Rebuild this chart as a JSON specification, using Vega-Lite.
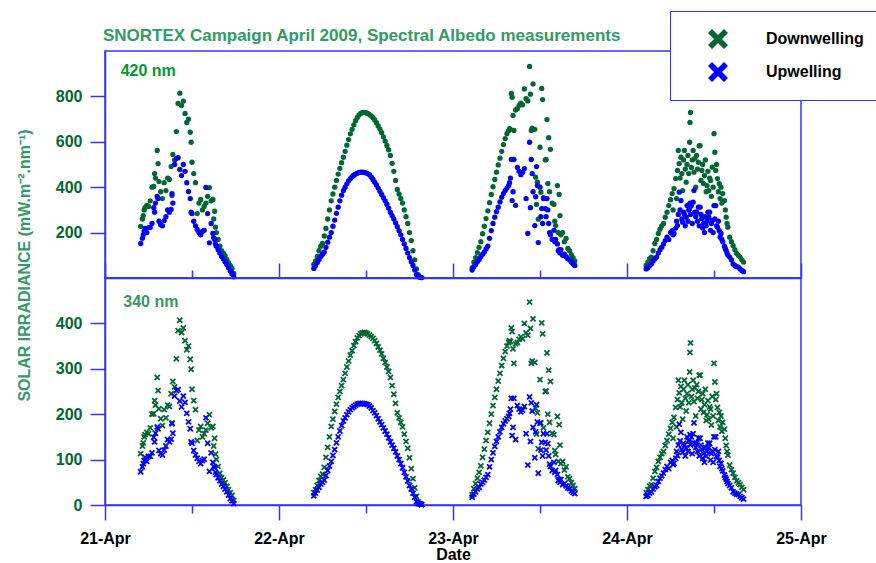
{
  "$schema": "https://vega.github.io/schema/vega-lite/v6.json",
  "padding": {"left": 15, "top": 10, "right": 0, "bottom": 0},
  "bounds": "flush",
  "spacing": 0,
  "title": {"text": "SNORTEX Campaign April 2009, Spectral Albedo measurements", "anchor": "start", "frame": "group", "color": "#339966", "font": "Liberation Sans", "fontSize": 17, "fontWeight": "bold", "dx": -2, "offset": -34},
  "data": {"values": [
{"t":21.205,"D420":227,"U420":152,"D340":113,"U340":73},
{"t":21.215,"D420":260,"U420":175,"D340":130,"U340":84},
{"t":21.22,"D420":275,"U420":190,"D340":137,"U340":91},
{"t":21.225,"D420":300,"U420":205,"D340":150,"U340":98},
{"t":21.23,"D420":310,"U420":218,"D340":155,"U340":105},
{"t":21.24,"D420":320,"U420":200,"D340":160,"U340":96},
{"t":21.25,"D420":315,"U420":222,"D340":157,"U340":107},
{"t":21.26,"D420":340,"U420":222,"D340":170,"U340":107},
{"t":21.27,"D420":400,"U420":240,"D340":200,"U340":115},
{"t":21.28,"D420":403,"U420":310,"D340":201,"U340":149},
{"t":21.285,"D420":460,"U420":290,"D340":230,"U340":139},
{"t":21.29,"D420":440,"U420":330,"D340":220,"U340":158},
{"t":21.30,"D420":562,"U420":359,"D340":281,"U340":172},
{"t":21.305,"D420":504,"U420":350,"D340":252,"U340":168},
{"t":21.31,"D420":425,"U420":250,"D340":212,"U340":120},
{"t":21.32,"D420":380,"U420":235,"D340":190,"U340":113},
{"t":21.33,"D420":350,"U420":230,"D340":175,"U340":110},
{"t":21.34,"D420":420,"U420":253,"D340":210,"U340":121},
{"t":21.35,"D420":385,"U420":270,"D340":192,"U340":130},
{"t":21.36,"D420":440,"U420":300,"D340":220,"U340":144},
{"t":21.37,"D420":434,"U420":290,"D340":217,"U340":139},
{"t":21.38,"D420":491,"U420":302,"D340":245,"U340":145},
{"t":21.385,"D420":363,"U420":372,"D340":181,"U340":179},
{"t":21.39,"D420":544,"U420":330,"D340":272,"U340":158},
{"t":21.40,"D420":520,"U420":500,"D340":260,"U340":240},
{"t":21.41,"D420":645,"U420":526,"D340":322,"U340":252},
{"t":21.42,"D420":769,"U420":530,"D340":384,"U340":254},
{"t":21.43,"D420":814,"U420":478,"D340":407,"U340":229},
{"t":21.44,"D420":760,"U420":451,"D340":380,"U340":216},
{"t":21.45,"D420":779,"U420":500,"D340":390,"U340":240},
{"t":21.46,"D420":725,"U420":470,"D340":362,"U340":226},
{"t":21.47,"D420":685,"U420":420,"D340":342,"U340":202},
{"t":21.48,"D420":700,"U420":381,"D340":350,"U340":183},
{"t":21.49,"D420":642,"U420":350,"D340":321,"U340":168},
{"t":21.495,"D420":598,"U420":290,"D340":299,"U340":139},
{"t":21.50,"D420":510,"U420":284,"D340":255,"U340":136},
{"t":21.51,"D420":460,"U420":250,"D340":230,"U340":120},
{"t":21.52,"D420":420,"U420":230,"D340":210,"U340":110},
{"t":21.53,"D420":284,"U420":214,"D340":142,"U340":103},
{"t":21.54,"D420":330,"U420":200,"D340":165,"U340":96},
{"t":21.55,"D420":346,"U420":190,"D340":173,"U340":91},
{"t":21.56,"D420":300,"U420":205,"D340":150,"U340":98},
{"t":21.57,"D420":315,"U420":210,"D340":157,"U340":101},
{"t":21.58,"D420":330,"U420":399,"D340":165,"U340":192},
{"t":21.59,"D420":360,"U420":284,"D340":180,"U340":136},
{"t":21.60,"D420":398,"U420":155,"D340":199,"U340":74},
{"t":21.61,"D420":340,"U420":240,"D340":170,"U340":115},
{"t":21.62,"D420":346,"U420":196,"D340":173,"U340":94},
{"t":21.625,"D420":260,"U420":178,"D340":130,"U340":85},
{"t":21.63,"D420":294,"U420":170,"D340":147,"U340":82},
{"t":21.635,"D420":224,"U420":150,"D340":112,"U340":72},
{"t":21.64,"D420":200,"U420":140,"D340":100,"U340":67},
{"t":21.65,"D420":170,"U420":125,"D340":85,"U340":60},
{"t":21.66,"D420":140,"U420":110,"D340":70,"U340":53},
{"t":21.67,"D420":121,"U420":95,"D340":60,"U340":46},
{"t":21.68,"D420":110,"U420":85,"D340":55,"U340":41},
{"t":21.69,"D420":99,"U420":72,"D340":49,"U340":35},
{"t":21.70,"D420":82,"U420":60,"D340":41,"U340":29},
{"t":21.71,"D420":68,"U420":45,"D340":34,"U340":22},
{"t":21.72,"D420":55,"U420":30,"D340":27,"U340":14},
{"t":21.73,"D420":42,"U420":18,"D340":21,"U340":9},
{"t":21.74,"D420":20,"U420":5,"D340":10,"U340":3},
{"t":22.20,"D420":60,"U420":42,"D340":27,"U340":20},
{"t":22.21,"D420":75,"U420":55,"D340":34,"U340":26},
{"t":22.22,"D420":95,"U420":68,"D340":43,"U340":33},
{"t":22.23,"D420":120,"U420":82,"D340":54,"U340":39},
{"t":22.24,"D420":140,"U420":95,"D340":63,"U340":46},
{"t":22.25,"D420":152,"U420":105,"D340":68,"U340":50},
{"t":22.26,"D420":185,"U420":115,"D340":83,"U340":55},
{"t":22.27,"D420":218,"U420":135,"D340":105,"U340":65},
{"t":22.28,"D420":260,"U420":158,"D340":127,"U340":76},
{"t":22.29,"D420":300,"U420":180,"D340":150,"U340":86},
{"t":22.30,"D420":340,"U420":200,"D340":173,"U340":96},
{"t":22.31,"D420":370,"U420":228,"D340":189,"U340":109},
{"t":22.32,"D420":400,"U420":255,"D340":206,"U340":122},
{"t":22.33,"D420":430,"U420":285,"D340":222,"U340":137},
{"t":22.34,"D420":458,"U420":312,"D340":237,"U340":150},
{"t":22.35,"D420":483,"U420":340,"D340":250,"U340":163},
{"t":22.36,"D420":508,"U420":365,"D340":263,"U340":175},
{"t":22.37,"D420":532,"U420":385,"D340":276,"U340":185},
{"t":22.38,"D420":558,"U420":400,"D340":290,"U340":192},
{"t":22.39,"D420":585,"U420":415,"D340":304,"U340":199},
{"t":22.40,"D420":610,"U420":428,"D340":317,"U340":205},
{"t":22.41,"D420":635,"U420":438,"D340":330,"U340":210},
{"t":22.42,"D420":655,"U420":446,"D340":340,"U340":214},
{"t":22.43,"D420":675,"U420":453,"D340":351,"U340":217},
{"t":22.44,"D420":693,"U420":458,"D340":360,"U340":220},
{"t":22.45,"D420":707,"U420":462,"D340":368,"U340":222},
{"t":22.46,"D420":718,"U420":465,"D340":373,"U340":223},
{"t":22.47,"D420":725,"U420":466,"D340":377,"U340":224},
{"t":22.48,"D420":729,"U420":466,"D340":379,"U340":224},
{"t":22.49,"D420":730,"U420":465,"D340":380,"U340":223},
{"t":22.50,"D420":728,"U420":463,"D340":379,"U340":222},
{"t":22.51,"D420":725,"U420":460,"D340":377,"U340":221},
{"t":22.52,"D420":720,"U420":455,"D340":374,"U340":218},
{"t":22.53,"D420":714,"U420":445,"D340":371,"U340":214},
{"t":22.54,"D420":706,"U420":434,"D340":367,"U340":208},
{"t":22.55,"D420":696,"U420":422,"D340":362,"U340":203},
{"t":22.56,"D420":684,"U420":410,"D340":356,"U340":197},
{"t":22.57,"D420":670,"U420":396,"D340":348,"U340":190},
{"t":22.58,"D420":656,"U420":382,"D340":341,"U340":183},
{"t":22.59,"D420":640,"U420":368,"D340":333,"U340":177},
{"t":22.60,"D420":622,"U420":354,"D340":323,"U340":170},
{"t":22.61,"D420":603,"U420":340,"D340":314,"U340":163},
{"t":22.62,"D420":584,"U420":325,"D340":304,"U340":156},
{"t":22.63,"D420":565,"U420":308,"D340":294,"U340":148},
{"t":22.64,"D420":540,"U420":290,"D340":281,"U340":139},
{"t":22.65,"D420":505,"U420":275,"D340":263,"U340":132},
{"t":22.66,"D420":470,"U420":260,"D340":244,"U340":125},
{"t":22.67,"D420":430,"U420":243,"D340":224,"U340":117},
{"t":22.68,"D420":390,"U420":226,"D340":203,"U340":108},
{"t":22.69,"D420":370,"U420":208,"D340":192,"U340":100},
{"t":22.70,"D420":350,"U420":190,"D340":182,"U340":91},
{"t":22.71,"D420":330,"U420":170,"D340":172,"U340":82},
{"t":22.72,"D420":300,"U420":150,"D340":156,"U340":72},
{"t":22.73,"D420":270,"U420":130,"D340":140,"U340":62},
{"t":22.74,"D420":240,"U420":110,"D340":125,"U340":53},
{"t":22.75,"D420":200,"U420":90,"D340":104,"U340":43},
{"t":22.76,"D420":165,"U420":72,"D340":80,"U340":35},
{"t":22.77,"D420":120,"U420":55,"D340":58,"U340":26},
{"t":22.78,"D420":80,"U420":35,"D340":38,"U340":17},
{"t":22.79,"D420":40,"U420":15,"D340":19,"U340":7},
{"t":22.80,"D420":15,"U420":6,"D340":7,"U340":3},
{"t":22.81,"D420":5,"U420":3,"D340":3,"U340":2},
{"t":22.82,"D420":2,"U420":2,"D340":1,"U340":1},
{"t":23.11,"D420":45,"U420":35,"D340":22,"U340":17},
{"t":23.12,"D420":70,"U420":50,"D340":36,"U340":24},
{"t":23.13,"D420":90,"U420":60,"D340":47,"U340":29},
{"t":23.14,"D420":112,"U420":72,"D340":59,"U340":35},
{"t":23.15,"D420":135,"U420":82,"D340":72,"U340":39},
{"t":23.16,"D420":160,"U420":95,"D340":86,"U340":46},
{"t":23.17,"D420":195,"U420":105,"D340":105,"U340":50},
{"t":23.18,"D420":228,"U420":115,"D340":123,"U340":55},
{"t":23.19,"D420":262,"U420":128,"D340":142,"U340":61},
{"t":23.20,"D420":296,"U420":140,"D340":160,"U340":67},
{"t":23.21,"D420":332,"U420":175,"D340":180,"U340":84},
{"t":23.22,"D420":368,"U420":209,"D340":200,"U340":100},
{"t":23.23,"D420":402,"U420":240,"D340":219,"U340":115},
{"t":23.24,"D420":434,"U420":268,"D340":237,"U340":129},
{"t":23.25,"D420":466,"U420":292,"D340":255,"U340":140},
{"t":23.26,"D420":498,"U420":312,"D340":273,"U340":150},
{"t":23.27,"D420":528,"U420":335,"D340":290,"U340":161},
{"t":23.28,"D420":558,"U420":356,"D340":307,"U340":171},
{"t":23.29,"D420":588,"U420":372,"D340":323,"U340":179},
{"t":23.30,"D420":614,"U420":385,"D340":338,"U340":185},
{"t":23.31,"D420":636,"U420":396,"D340":350,"U340":190},
{"t":23.32,"D420":650,"U420":407,"D340":358,"U340":195},
{"t":23.325,"D420":658,"U420":420,"D340":362,"U340":202},
{"t":23.33,"D420":655,"U420":440,"D340":360,"U340":211},
{"t":23.335,"D420":813,"U420":522,"D340":390,"U340":235},
{"t":23.34,"D420":796,"U420":341,"D340":382,"U340":153},
{"t":23.345,"D420":716,"U420":380,"D340":344,"U340":171},
{"t":23.35,"D420":650,"U420":522,"D340":312,"U340":235},
{"t":23.36,"D420":740,"U420":320,"D340":355,"U340":144},
{"t":23.37,"D420":746,"U420":487,"D340":358,"U340":219},
{"t":23.38,"D420":760,"U420":470,"D340":365,"U340":211},
{"t":23.39,"D420":770,"U420":455,"D340":370,"U340":205},
{"t":23.40,"D420":763,"U420":465,"D340":366,"U340":209},
{"t":23.41,"D420":833,"U420":482,"D340":400,"U340":217},
{"t":23.42,"D420":790,"U420":350,"D340":379,"U340":157},
{"t":23.43,"D420":780,"U420":196,"D340":374,"U340":88},
{"t":23.44,"D420":932,"U420":598,"D340":447,"U340":238},
{"t":23.445,"D420":810,"U420":310,"D340":389,"U340":140},
{"t":23.45,"D420":650,"U420":522,"D340":312,"U340":225},
{"t":23.455,"D420":660,"U420":460,"D340":317,"U340":207},
{"t":23.46,"D420":855,"U420":380,"D340":410,"U340":171},
{"t":23.47,"D420":655,"U420":231,"D340":314,"U340":104},
{"t":23.475,"D420":444,"U420":358,"D340":213,"U340":161},
{"t":23.48,"D420":324,"U420":491,"D340":156,"U340":221},
{"t":23.485,"D420":422,"U420":407,"D340":203,"U340":183},
{"t":23.49,"D420":259,"U420":156,"D340":124,"U340":70},
{"t":23.50,"D420":576,"U420":400,"D340":276,"U340":180},
{"t":23.505,"D420":378,"U420":270,"D340":181,"U340":121},
{"t":23.51,"D420":835,"U420":306,"D340":401,"U340":138},
{"t":23.515,"D420":786,"U420":240,"D340":377,"U340":108},
{"t":23.52,"D420":354,"U420":350,"D340":170,"U340":157},
{"t":23.53,"D420":520,"U420":306,"D340":250,"U340":138},
{"t":23.535,"D420":522,"U420":270,"D340":251,"U340":121},
{"t":23.54,"D420":698,"U420":350,"D340":335,"U340":157},
{"t":23.545,"D420":416,"U420":300,"D340":200,"U340":135},
{"t":23.55,"D420":618,"U420":240,"D340":297,"U340":108},
{"t":23.555,"D420":380,"U420":200,"D340":182,"U340":90},
{"t":23.56,"D420":567,"U420":190,"D340":272,"U340":85},
{"t":23.57,"D420":330,"U420":170,"D340":158,"U340":76},
{"t":23.58,"D420":324,"U420":210,"D340":155,"U340":94},
{"t":23.585,"D420":250,"U420":160,"D340":120,"U340":72},
{"t":23.59,"D420":231,"U420":170,"D340":111,"U340":76},
{"t":23.60,"D420":407,"U420":150,"D340":195,"U340":67},
{"t":23.605,"D420":200,"U420":120,"D340":96,"U340":54},
{"t":23.61,"D420":368,"U420":125,"D340":177,"U340":56},
{"t":23.615,"D420":275,"U420":110,"D340":132,"U340":50},
{"t":23.62,"D420":190,"U420":125,"D340":91,"U340":56},
{"t":23.63,"D420":200,"U420":100,"D340":96,"U340":45},
{"t":23.64,"D420":160,"U420":105,"D340":77,"U340":47},
{"t":23.65,"D420":174,"U420":94,"D340":84,"U340":42},
{"t":23.66,"D420":130,"U420":85,"D340":62,"U340":38},
{"t":23.67,"D420":120,"U420":80,"D340":58,"U340":36},
{"t":23.68,"D420":103,"U420":70,"D340":49,"U340":31},
{"t":23.69,"D420":90,"U420":62,"D340":43,"U340":28},
{"t":23.70,"D420":75,"U420":55,"D340":36,"U340":25},
{"t":24.11,"D420":55,"U420":40,"D340":27,"U340":19},
{"t":24.12,"D420":70,"U420":45,"D340":34,"U340":21},
{"t":24.13,"D420":85,"U420":55,"D340":42,"U340":26},
{"t":24.14,"D420":92,"U420":62,"D340":45,"U340":29},
{"t":24.15,"D420":120,"U420":75,"D340":59,"U340":35},
{"t":24.16,"D420":152,"U420":85,"D340":74,"U340":40},
{"t":24.17,"D420":170,"U420":92,"D340":83,"U340":43},
{"t":24.18,"D420":196,"U420":110,"D340":96,"U340":52},
{"t":24.19,"D420":215,"U420":125,"D340":105,"U340":59},
{"t":24.20,"D420":230,"U420":136,"D340":113,"U340":64},
{"t":24.21,"D420":240,"U420":150,"D340":118,"U340":70},
{"t":24.22,"D420":268,"U420":165,"D340":131,"U340":78},
{"t":24.23,"D420":290,"U420":180,"D340":142,"U340":85},
{"t":24.24,"D420":319,"U420":170,"D340":156,"U340":80},
{"t":24.25,"D420":345,"U420":200,"D340":169,"U340":94},
{"t":24.26,"D420":372,"U420":209,"D340":182,"U340":98},
{"t":24.265,"D420":300,"U420":190,"D340":147,"U340":89},
{"t":24.27,"D420":394,"U420":196,"D340":193,"U340":92},
{"t":24.28,"D420":438,"U420":220,"D340":215,"U340":103},
{"t":24.285,"D420":350,"U420":250,"D340":172,"U340":118},
{"t":24.29,"D420":474,"U420":231,"D340":232,"U340":109},
{"t":24.295,"D420":562,"U420":280,"D340":275,"U340":132},
{"t":24.30,"D420":504,"U420":378,"D340":247,"U340":178},
{"t":24.305,"D420":440,"U420":300,"D340":216,"U340":141},
{"t":24.31,"D420":532,"U420":341,"D340":261,"U340":160},
{"t":24.315,"D420":460,"U420":260,"D340":225,"U340":122},
{"t":24.32,"D420":385,"U420":246,"D340":189,"U340":116},
{"t":24.325,"D420":520,"U420":290,"D340":255,"U340":136},
{"t":24.33,"D420":562,"U420":280,"D340":275,"U340":132},
{"t":24.335,"D420":480,"U420":230,"D340":235,"U340":108},
{"t":24.34,"D420":422,"U420":268,"D340":207,"U340":126},
{"t":24.345,"D420":500,"U420":319,"D340":245,"U340":150},
{"t":24.35,"D420":540,"U420":250,"D340":265,"U340":118},
{"t":24.355,"D420":460,"U420":300,"D340":225,"U340":141},
{"t":24.36,"D420":598,"U420":306,"D340":293,"U340":144},
{"t":24.362,"D420":685,"U420":330,"D340":336,"U340":155},
{"t":24.365,"D420":729,"U420":280,"D340":357,"U340":132},
{"t":24.37,"D420":487,"U420":319,"D340":239,"U340":150},
{"t":24.375,"D420":520,"U420":240,"D340":255,"U340":113},
{"t":24.38,"D420":562,"U420":334,"D340":275,"U340":157},
{"t":24.385,"D420":466,"U420":385,"D340":228,"U340":181},
{"t":24.39,"D420":526,"U420":290,"D340":258,"U340":136},
{"t":24.395,"D420":400,"U420":270,"D340":196,"U340":127},
{"t":24.40,"D420":540,"U420":290,"D340":265,"U340":136},
{"t":24.405,"D420":480,"U420":250,"D340":235,"U340":118},
{"t":24.41,"D420":510,"U420":312,"D340":250,"U340":147},
{"t":24.415,"D420":583,"U420":230,"D340":286,"U340":108},
{"t":24.42,"D420":583,"U420":312,"D340":286,"U340":147},
{"t":24.425,"D420":430,"U420":280,"D340":211,"U340":132},
{"t":24.43,"D420":474,"U420":262,"D340":232,"U340":123},
{"t":24.435,"D420":500,"U420":220,"D340":245,"U340":103},
{"t":24.44,"D420":416,"U420":240,"D340":204,"U340":113},
{"t":24.445,"D420":451,"U420":200,"D340":221,"U340":94},
{"t":24.45,"D420":520,"U420":270,"D340":255,"U340":127},
{"t":24.455,"D420":380,"U420":230,"D340":186,"U340":108},
{"t":24.46,"D420":407,"U420":250,"D340":199,"U340":118},
{"t":24.465,"D420":470,"U420":290,"D340":230,"U340":136},
{"t":24.47,"D420":385,"U420":268,"D340":189,"U340":126},
{"t":24.475,"D420":440,"U420":290,"D340":216,"U340":136},
{"t":24.48,"D420":430,"U420":210,"D340":211,"U340":99},
{"t":24.485,"D420":360,"U420":240,"D340":176,"U340":113},
{"t":24.49,"D420":488,"U420":253,"D340":239,"U340":119},
{"t":24.495,"D420":400,"U420":200,"D340":196,"U340":94},
{"t":24.50,"D420":636,"U420":319,"D340":312,"U340":150},
{"t":24.505,"D420":554,"U420":260,"D340":271,"U340":122},
{"t":24.51,"D420":474,"U420":319,"D340":232,"U340":150},
{"t":24.515,"D420":500,"U420":230,"D340":245,"U340":108},
{"t":24.52,"D420":438,"U420":224,"D340":215,"U340":105},
{"t":24.525,"D420":380,"U420":250,"D340":186,"U340":118},
{"t":24.53,"D420":416,"U420":209,"D340":204,"U340":98},
{"t":24.535,"D420":350,"U420":180,"D340":172,"U340":85},
{"t":24.54,"D420":400,"U420":196,"D340":196,"U340":92},
{"t":24.545,"D420":330,"U420":170,"D340":162,"U340":80},
{"t":24.55,"D420":372,"U420":160,"D340":182,"U340":75},
{"t":24.56,"D420":341,"U420":140,"D340":167,"U340":66},
{"t":24.565,"D420":300,"U420":130,"D340":147,"U340":61},
{"t":24.57,"D420":268,"U420":121,"D340":131,"U340":57},
{"t":24.575,"D420":240,"U420":110,"D340":118,"U340":52},
{"t":24.58,"D420":224,"U420":100,"D340":110,"U340":47},
{"t":24.59,"D420":180,"U420":92,"D340":88,"U340":43},
{"t":24.60,"D420":160,"U420":80,"D340":78,"U340":38},
{"t":24.61,"D420":143,"U420":62,"D340":70,"U340":29},
{"t":24.62,"D420":125,"U420":55,"D340":61,"U340":26},
{"t":24.63,"D420":108,"U420":50,"D340":53,"U340":24},
{"t":24.64,"D420":100,"U420":48,"D340":49,"U340":23},
{"t":24.65,"D420":92,"U420":40,"D340":45,"U340":19},
{"t":24.66,"D420":80,"U420":33,"D340":39,"U340":16},
{"t":24.67,"D420":70,"U420":28,"D340":34,"U340":13}
  ]},
  "vconcat": [
    {
      "width": 696,
      "height": 227,
      "layer": [
        {
          "mark": {"type": "point", "shape": "circle", "filled": true, "size": 28, "opacity": 1},
          "encoding": {
            "x": {"field": "t", "type": "quantitative", "scale": {"domain": [21, 25]},
              "axis": {"values": [21, 21.5, 22, 22.5, 23, 23.5, 24, 24.5, 25], "labels": false, "title": null,
                "tickSize": {"condition": {"test": "datum.value % 1 === 0", "value": -15}, "value": -8}}},
            "y": {"field": "D420", "type": "quantitative", "scale": {"domain": [0, 1000]},
              "axis": {"values": [200, 300, 400, 500, 600, 700, 800, 900],
                "labelExpr": "datum.value % 200 === 0 ? datum.label : ''",
                "tickSize": {"condition": {"test": "datum.value % 200 === 0", "value": 15}, "value": 8},
                "labelPadding": 8,
                "title": "SOLAR IRRADIANCE (mW.m⁻².nm⁻¹)", "titleColor": "#339966", "titleFontSize": 16,
                "titleAngle": -90, "titleX": -81, "titleY": 214, "titleAlign": "center", "titleBaseline": "middle"}},
            "color": {"datum": "Downwelling", "type": "nominal", "scale": {"domain": ["Downwelling", "Upwelling"], "range": ["#006633", "#0000ff"]}}
          }
        },
        {
          "mark": {"type": "point", "shape": "circle", "filled": true, "size": 28, "opacity": 1},
          "encoding": {
            "x": {"field": "t", "type": "quantitative"},
            "y": {"field": "U420", "type": "quantitative"},
            "color": {"datum": "Upwelling", "type": "nominal"}
          }
        },
        {
          "data": {"values": [{"t": 21.09, "v": 888, "label": "420 nm"}]},
          "mark": {"type": "text", "align": "left", "baseline": "alphabetic", "font": "Liberation Sans", "fontSize": 16, "fontWeight": "bold", "color": "#009933"},
          "encoding": {
            "x": {"field": "t", "type": "quantitative"},
            "y": {"field": "v", "type": "quantitative"},
            "text": {"field": "label"}
          }
        }
      ]
    },
    {
      "width": 696,
      "height": 227,
      "layer": [
        {
          "mark": {"type": "point", "shape": "M-1,-0.6L-0.6,-1L0,-0.4L0.6,-1L1,-0.6L0.4,0L1,0.6L0.6,1L0,0.4L-0.6,1L-1,0.6L-0.4,0Z", "filled": true, "size": 40, "opacity": 1},
          "encoding": {
            "x": {"field": "t", "type": "quantitative", "scale": {"domain": [21, 25]},
              "axis": {"values": [21, 21.5, 22, 22.5, 23, 23.5, 24, 24.5, 25],
                "labelExpr": "datum.value % 1 === 0 ? datum.value + '-Apr' : ''",
                "tickSize": {"condition": {"test": "datum.value % 1 === 0", "value": 15}, "value": 8},
                "labelPadding": 10, "labelColor": "black", "labelFlush": false, "labelOverlap": false,
                "title": "Date", "titleColor": "black", "titlePadding": 0}},
            "y": {"field": "D340", "type": "quantitative", "scale": {"domain": [0, 500]},
              "axis": {"values": [0, 50, 100, 150, 200, 250, 300, 350, 400, 450],
                "labelExpr": "datum.value % 100 === 0 ? datum.label : ''",
                "tickSize": {"condition": {"test": "datum.value % 100 === 0", "value": 15}, "value": 8},
                "labelPadding": 8, "title": null}},
            "color": {"datum": "Downwelling", "type": "nominal"}
          }
        },
        {
          "mark": {"type": "point", "shape": "M-1,-0.6L-0.6,-1L0,-0.4L0.6,-1L1,-0.6L0.4,0L1,0.6L0.6,1L0,0.4L-0.6,1L-1,0.6L-0.4,0Z", "filled": true, "size": 40, "opacity": 1},
          "encoding": {
            "x": {"field": "t", "type": "quantitative"},
            "y": {"field": "U340", "type": "quantitative"},
            "color": {"datum": "Upwelling", "type": "nominal"}
          }
        },
        {
          "data": {"values": [{"t": 21.105, "v": 437, "label": "340 nm"}]},
          "mark": {"type": "text", "align": "left", "baseline": "alphabetic", "font": "Liberation Sans", "fontSize": 16, "fontWeight": "bold", "color": "#339966"},
          "encoding": {
            "x": {"field": "t", "type": "quantitative"},
            "y": {"field": "v", "type": "quantitative"},
            "text": {"field": "label"}
          }
        }
      ]
    }
  ],
  "config": {
    "font": "Liberation Sans",
    "view": {"stroke": "#3333ff", "strokeWidth": 1.5},
    "axis": {"grid": false, "domainColor": "#3333ff", "domainWidth": 1.5, "tickColor": "#3333ff", "tickWidth": 1.5,
      "labelFont": "Liberation Sans", "labelFontSize": 16, "labelFontWeight": "bold", "labelColor": "#006633",
      "labelFlush": false, "labelOverlap": false,
      "titleFont": "Liberation Sans", "titleFontSize": 16, "titleFontWeight": "bold"},
    "legend": {"orient": "none", "legendX": 565, "legendY": -40, "title": null, "fillColor": "white", "strokeColor": "#3333ff",
      "padding": 18, "symbolOffset": 20, "labelOffset": 38, "rowPadding": 13, "symbolSize": 400,
      "symbolType": "M-1,-0.6L-0.6,-1L0,-0.4L0.6,-1L1,-0.6L0.4,0L1,0.6L0.6,1L0,0.4L-0.6,1L-1,0.6L-0.4,0Z",
      "symbolStrokeWidth": 0, "labelFont": "Liberation Sans", "labelFontSize": 16, "labelFontWeight": "bold", "labelColor": "black"}
  }
}
